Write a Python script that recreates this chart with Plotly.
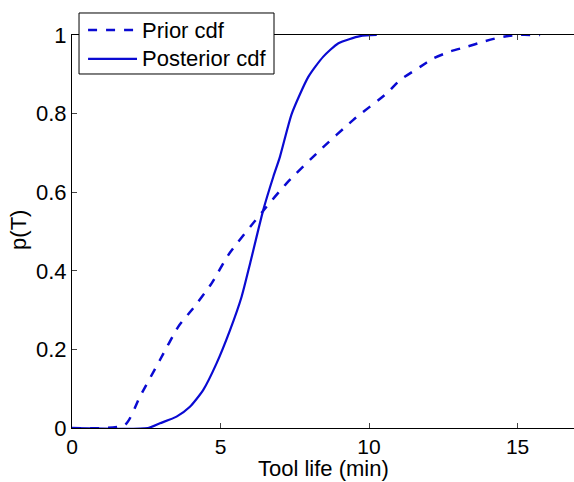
import plotly.graph_objects as go

# Prior cdf (dashed)
prior_x = [0, 1.78, 2.29, 2.96, 3.58, 4.08, 4.70, 5.26, 6.44, 7.23, 8.35, 9.47, 10.6, 11.04, 11.72, 12.15, 12.73, 13.29, 13.85, 14.4, 14.97, 15.76]
prior_y = [0, 0.008, 0.08, 0.173, 0.258, 0.305, 0.368, 0.44, 0.553, 0.623, 0.707, 0.784, 0.852, 0.885, 0.919, 0.94, 0.958, 0.970, 0.983, 0.994, 1.0, 1.0]

# Posterior cdf (solid)
post_x = [0, 2.56, 2.96, 3.52, 3.97, 4.42, 4.87, 5.32, 5.71, 6.0, 6.44, 6.78, 7.0, 7.40, 7.96, 8.46, 8.97, 9.70, 10.26]
post_y = [0, 0.0, 0.012, 0.029, 0.054, 0.097, 0.165, 0.249, 0.334, 0.42, 0.555, 0.64, 0.69, 0.80, 0.894, 0.945, 0.979, 0.997, 1.0]

series_names = ["Prior cdf", "Posterior cdf"]

x_ticks = [0, 5, 10, 15]
y_ticks = [0, 0.2, 0.4, 0.6, 0.8, 1]
y_tick_text = ["0", "0.2", "0.4", "0.6", "0.8", "1"]
x_title = "Tool life (min)"
y_title = "p(T)"

blue = "#0a0ad2"
font = "Liberation Sans, Arial, sans-serif"
styles = [dict(color=blue, width=2.5, dash="dash"), dict(color=blue, width=2.2, dash="solid")]

fig = go.Figure()
fig.add_trace(go.Scatter(x=prior_x, y=prior_y, mode="lines", name=series_names[0],
                         line=dict(**styles[0], shape="spline", smoothing=0.6)))
fig.add_trace(go.Scatter(x=post_x, y=post_y, mode="lines", name=series_names[1],
                         line=dict(**styles[1], shape="spline", smoothing=0.6)))

# Legend box drawn in paper coordinates (MATLAB-style)
fig.add_shape(type="rect", xref="paper", yref="paper", x0=0.014, x1=0.4024, y0=0.9008, y1=1.056,
              line=dict(color="black", width=1), fillcolor="white", layer="above")
legend_rows_y = [1.0127, 0.939]
for name, st, ly in zip(series_names, styles, legend_rows_y):
    fig.add_shape(type="line", xref="paper", yref="paper", x0=0.032, x1=0.1295, y0=ly, y1=ly,
                  line=dict(color=st["color"], width=st["width"], dash=st["dash"]), layer="above")
    fig.add_annotation(text=name, xref="paper", yref="paper", x=0.1355, y=ly,
                       xanchor="left", yanchor="middle", showarrow=False,
                       font=dict(size=22, color="black"))

# axis titles
fig.add_annotation(text=x_title, xref="paper", yref="paper", x=0.5, y=-0.1043,
                   xanchor="center", yanchor="middle", showarrow=False,
                   font=dict(size=22, color="black"))
fig.add_annotation(text=y_title, xref="paper", yref="paper", x=-0.1056, y=0.504,
                   xanchor="center", yanchor="middle", showarrow=False, textangle=-90,
                   font=dict(size=22, color="black"))

fig.update_layout(
    width=574, height=482,
    margin=dict(l=72, r=0, t=35, b=54),
    paper_bgcolor="white", plot_bgcolor="white",
    font=dict(family=font, size=21, color="black"),
    showlegend=False,
    xaxis=dict(range=[0, 16.9], tickvals=x_ticks, ticks="inside", ticklen=5,
               showline=True, linecolor="black", linewidth=1, mirror="ticks",
               showgrid=False, zeroline=False, tickfont=dict(size=21)),
    yaxis=dict(range=[0, 1], tickvals=y_ticks, ticktext=y_tick_text, ticks="inside", ticklen=5,
               showline=True, linecolor="black", linewidth=1,
               showgrid=False, zeroline=False, tickfont=dict(size=22)),
)

fig.write_html("out.html")
